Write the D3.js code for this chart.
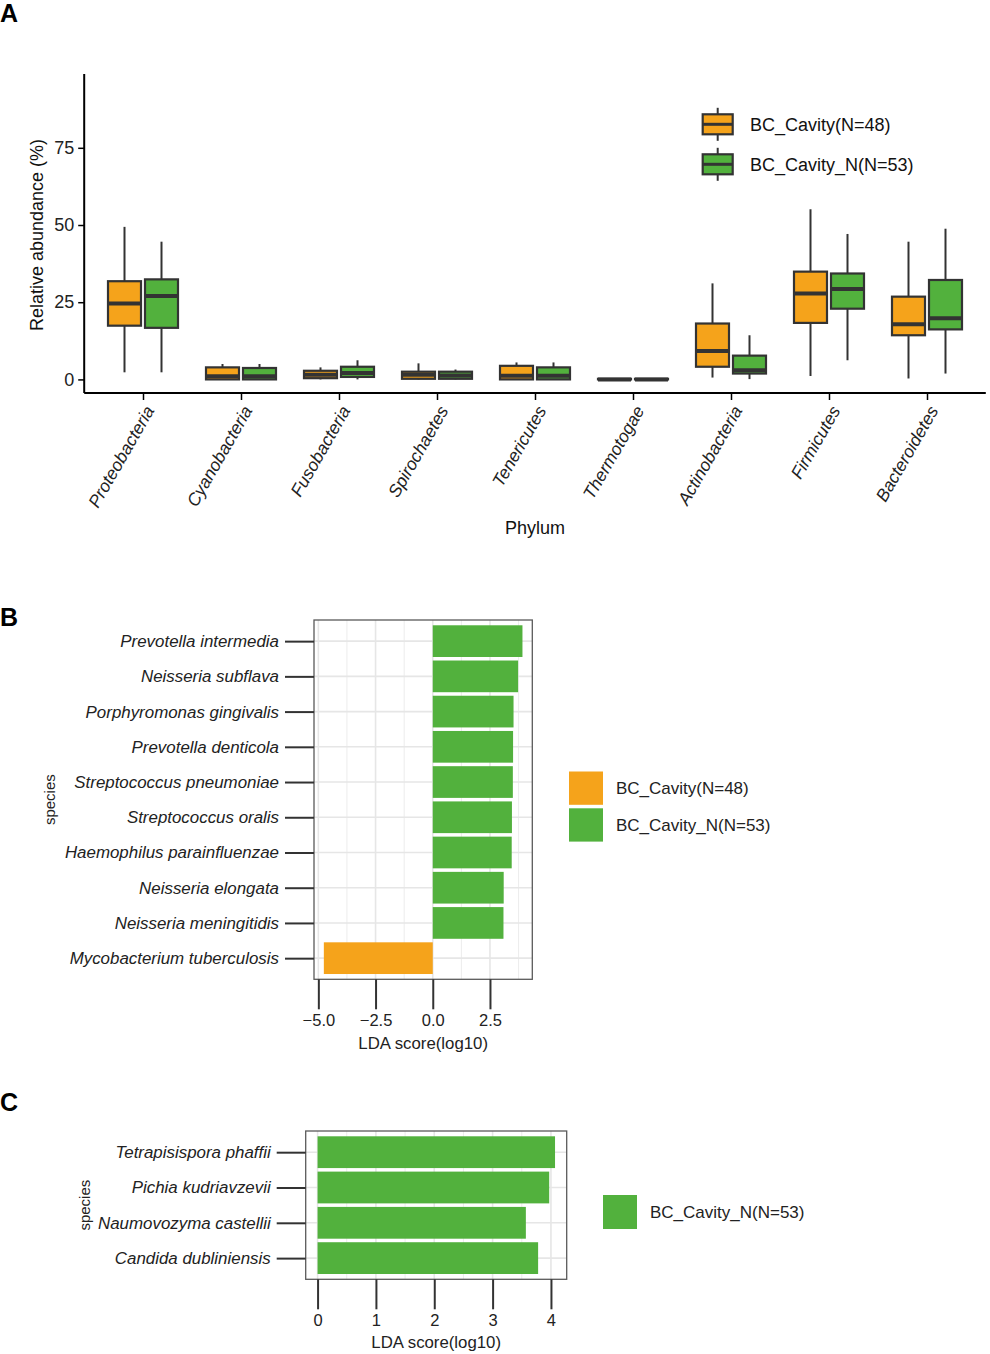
<!DOCTYPE html>
<html><head><meta charset="utf-8">
<script src="https://cdn.jsdelivr.net/npm/d3@7"></script>
<style>body{margin:0;background:#fff}svg{display:block;font-family:"Liberation Sans",Arial,sans-serif}</style>
</head><body>
<svg id="c" width="990" height="1354"></svg>
<script>
// ---------- DATA ----------
const phyla = ["Proteobacteria","Cyanobacteria","Fusobacteria","Spirochaetes","Tenericutes","Thermotogae","Actinobacteria","Firmicutes","Bacteroidetes"];
const groups = ["BC_Cavity(N=48)","BC_Cavity_N(N=53)"];
// [lower whisker, Q1, median, Q3, upper whisker]
const cavityStats = [
  [2.3,17.4,24.6,31.8,49.4],
  [0,0,1.0,3.9,5.0],
  [0,0.4,1.5,2.8,3.9],
  [0,0.2,1.5,2.5,5.2],
  [0,0,1.2,4.4,5.5],
  [0,0,0,0.2,0.3],
  [0.6,4.1,9.2,18.1,31.1],
  [1.1,18.3,27.8,34.9,55.1],
  [0.3,14.3,17.9,26.8,44.6]
];
const cavityNStats = [
  [2.3,16.7,27.0,32.4,44.6],
  [0,0,1.0,3.7,5.0],
  [0,0.8,2.1,4.1,6.2],
  [0,0.2,1.3,2.5,3.2],
  [0,0,1.2,3.9,5.5],
  [0,0,0,0.2,0.3],
  [0.1,1.9,3.0,7.7,14.3],
  [6.2,22.9,29.3,34.3,47.1],
  [1.9,16.2,19.8,32.2,48.8]
];
const yTicksA = [0,25,50,75];

const speciesB = ["Prevotella intermedia","Neisseria subflava","Porphyromonas gingivalis","Prevotella denticola","Streptococcus pneumoniae","Streptococcus oralis","Haemophilus parainfluenzae","Neisseria elongata","Neisseria meningitidis","Mycobacterium tuberculosis"];
const ldaB = [3.92,3.73,3.53,3.51,3.50,3.46,3.45,3.10,3.09,-4.76];
const groupB = [1,1,1,1,1,1,1,1,1,0];
const xTicksB = [-5,-2.5,0,2.5];
const xMinorB = [-3.75,-1.25,1.25,3.75];

const speciesC = ["Tetrapisispora phaffii","Pichia kudriavzevii","Naumovozyma castellii","Candida dubliniensis"];
const ldaC = [4.07,3.97,3.57,3.78];
const xTicksC = [0,1,2,3,4];
const xMinorC = [0.5,1.5,2.5,3.5];

const colors = ["#F5A31B","#52B13D"];
const dark = "#333333";

const svg = d3.select("#c");

// panel letters
[["A",0,22],["B",0,626],["C",0,1111]].forEach(([t,x,y])=>{
  svg.append("text").attr("x",x).attr("y",y).attr("font-size",25).attr("font-weight","bold").text(t);
});

// ---------- PANEL A ----------
const xP = d3.scalePoint().domain(phyla).range([84.2,985.8]).padding(0.6);
const yA = d3.scaleLinear().domain([-4.4,98.9]).range([393,74]);
const gA = svg.append("g");
const boxW = 33, off = 18.5;

function drawBox(g, cx, s, fill){
  const [lo,q1,md,q3,hi] = s;
  g.append("line").attr("x1",cx).attr("x2",cx).attr("y1",yA(q3)).attr("y2",yA(hi)).attr("stroke",dark).attr("stroke-width",2);
  g.append("line").attr("x1",cx).attr("x2",cx).attr("y1",yA(q1)).attr("y2",yA(lo)).attr("stroke",dark).attr("stroke-width",2);
  g.append("rect").attr("x",cx-boxW/2).attr("y",yA(q3)).attr("width",boxW).attr("height",Math.max(0.01,yA(q1)-yA(q3)))
    .attr("fill",fill).attr("stroke",dark).attr("stroke-width",2.2);
  g.append("line").attr("x1",cx-boxW/2).attr("x2",cx+boxW/2).attr("y1",yA(md)).attr("y2",yA(md)).attr("stroke",dark).attr("stroke-width",4);
}
phyla.forEach((p,i)=>{
  drawBox(gA, xP(p)-off, cavityStats[i], colors[0]);
  drawBox(gA, xP(p)+off, cavityNStats[i], colors[1]);
});
// axes
const axYA = d3.axisLeft(yA).tickValues(yTicksA).tickSize(6).tickPadding(4);
const gy = svg.append("g").attr("transform","translate(84.2,0)").call(axYA);
gy.select(".domain").attr("stroke","#000").attr("stroke-width",2).attr("d","M0,74V393");
gy.selectAll(".tick line").attr("stroke","#000").attr("stroke-width",1.5);
gy.selectAll(".tick text").attr("font-size",18).attr("fill","#222").attr("font-family","Liberation Sans, Arial");
const axXA = d3.axisBottom(xP).tickSize(7).tickFormat("");
const gx = svg.append("g").attr("transform","translate(0,393)").call(axXA);
gx.select(".domain").attr("stroke","#000").attr("stroke-width",2).attr("d","M84.2,0H985.8");
gx.selectAll(".tick line").attr("stroke","#000").attr("stroke-width",1.5);
phyla.forEach(p=>{
  svg.append("text").attr("transform",`translate(${xP(p)+1},404) rotate(-60)`)
    .attr("text-anchor","end").attr("dy","0.72em").attr("font-size",17.5).attr("font-style","italic").attr("fill","#222").text(p);
});
svg.append("text").attr("x",535).attr("y",534).attr("text-anchor","middle").attr("font-size",18).attr("fill","#111").text("Phylum");
svg.append("text").attr("transform","translate(43,235) rotate(-90)").attr("text-anchor","middle").attr("font-size",18).attr("fill","#111").text("Relative abundance (%)");
// legend A
groups.forEach((gname,i)=>{
  const cy = 124.3 + i*40;
  const g = svg.append("g");
  g.append("line").attr("x1",717.7).attr("x2",717.7).attr("y1",cy-16.5).attr("y2",cy+16.5).attr("stroke",dark).attr("stroke-width",2);
  g.append("rect").attr("x",702.7).attr("y",cy-10).attr("width",30).attr("height",20).attr("fill",colors[i]).attr("stroke",dark).attr("stroke-width",2.2);
  g.append("line").attr("x1",702.7).attr("x2",732.7).attr("y1",cy).attr("y2",cy).attr("stroke",dark).attr("stroke-width",3);
  g.append("text").attr("x",750).attr("y",cy).attr("dy","0.36em").attr("font-size",18).attr("fill","#111").text(gname);
});

// ---------- bar panel helper ----------
function barPanel(opt){
  const {species, vals, grp, xDom, xRange, yRange, ticks, minor, fmt, speciesX, titleY} = opt;
  const x = d3.scaleLinear().domain(xDom).range(xRange);
  const y = d3.scalePoint().domain(species).range(yRange).padding(0.6);
  const step = y.step();
  const g = svg.append("g");
  // grid
  minor.forEach(v=>g.append("line").attr("x1",x(v)).attr("x2",x(v)).attr("y1",yRange[0]).attr("y2",yRange[1]).attr("stroke","#ececec").attr("stroke-width",1));
  ticks.forEach(v=>g.append("line").attr("x1",x(v)).attr("x2",x(v)).attr("y1",yRange[0]).attr("y2",yRange[1]).attr("stroke","#e6e6e6").attr("stroke-width",1.6));
  species.forEach(s=>g.append("line").attr("x1",xRange[0]).attr("x2",xRange[1]).attr("y1",y(s)).attr("y2",y(s)).attr("stroke","#e6e6e6").attr("stroke-width",1.6));
  // bars
  species.forEach((s,i)=>{
    const v = vals[i];
    g.append("rect").attr("x",x(Math.min(0,v))).attr("width",Math.abs(x(v)-x(0)))
      .attr("y",y(s)-step*0.45).attr("height",step*0.9).attr("fill",colors[grp[i]]);
  });
  // border
  g.append("rect").attr("x",xRange[0]).attr("y",yRange[0]).attr("width",xRange[1]-xRange[0]).attr("height",yRange[1]-yRange[0])
    .attr("fill","none").attr("stroke","#5a5a5a").attr("stroke-width",1.3);
  // axes
  const ay = svg.append("g").attr("transform",`translate(${xRange[0]},0)`).call(d3.axisLeft(y).tickSize(29).tickPadding(6));
  ay.select(".domain").remove();
  ay.selectAll(".tick line").attr("stroke",dark).attr("stroke-width",2);
  ay.selectAll(".tick text").attr("font-size",16.9).attr("font-style","italic").attr("fill","#222").attr("font-family","Liberation Sans, Arial");
  const ax = svg.append("g").attr("transform",`translate(0,${yRange[1]})`).call(d3.axisBottom(x).tickValues(ticks).tickSize(30).tickPadding(5).tickFormat(fmt));
  ax.select(".domain").remove();
  ax.selectAll(".tick line").attr("stroke",dark).attr("stroke-width",2);
  ax.selectAll(".tick text").attr("font-size",16.5).attr("fill","#222").attr("font-family","Liberation Sans, Arial");
  svg.append("text").attr("x",(xRange[0]+xRange[1])/2).attr("y",titleY).attr("text-anchor","middle").attr("font-size",16.8).attr("fill","#222").text("LDA score(log10)");
  svg.append("text").attr("transform",`translate(${speciesX},${(yRange[0]+yRange[1])/2}) rotate(-90)`).attr("text-anchor","middle").attr("dy","0.35em").attr("font-size",15).attr("fill","#222").text("species");
}

barPanel({species:speciesB, vals:ldaB, grp:groupB, xDom:[-5.19,4.35], xRange:[314,532.3], yRange:[620,979.3],
  ticks:xTicksB, minor:xMinorB, fmt:d=>d3.format(".1f")(d).replace("-","\u2212"), speciesX:50, titleY:1049});
// legend B
groups.forEach((gname,i)=>{
  const y0 = 771.5 + i*36.8;
  svg.append("rect").attr("x",569).attr("y",y0).attr("width",34).attr("height",33.3).attr("fill",colors[i]);
  svg.append("text").attr("x",616).attr("y",y0+16.6).attr("dy","0.36em").attr("font-size",17).attr("fill","#222").text(gname);
});

barPanel({species:speciesC, vals:ldaC, grp:[1,1,1,1], xDom:[-0.2035,4.27], xRange:[305.7,566.7], yRange:[1131,1279.3],
  ticks:xTicksC, minor:xMinorC, fmt:d3.format("d"), speciesX:85, titleY:1348});
svg.append("rect").attr("x",603).attr("y",1195).attr("width",34).attr("height",34).attr("fill",colors[1]);
svg.append("text").attr("x",650).attr("y",1212).attr("dy","0.36em").attr("font-size",17).attr("fill","#222").text(groups[1]);
</script>
</body></html>
